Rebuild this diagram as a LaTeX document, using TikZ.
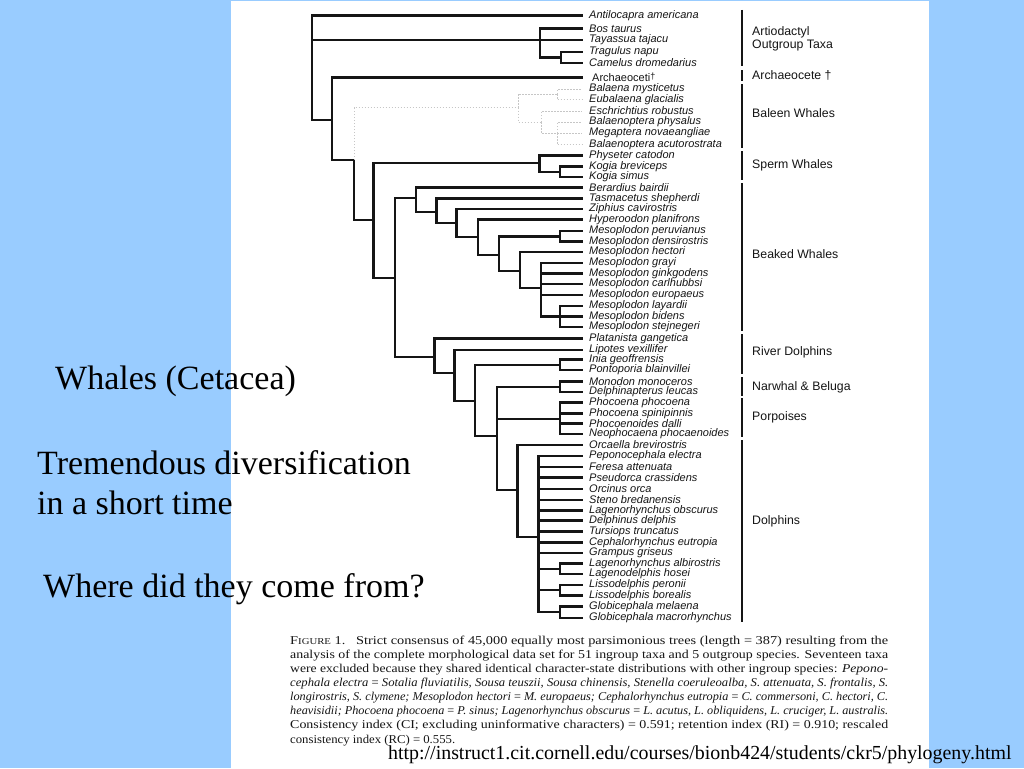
\documentclass[tikz,border=0pt]{standalone}
\usepackage{fontspec}
\usepackage{graphicx}
\setmainfont{Liberation Serif}
\newfontfamily\taxfont{Liberation Sans}
\definecolor{bgblue}{HTML}{99CCFF}
\definecolor{ink}{HTML}{151515}
\begin{document}
\begin{tikzpicture}[x=1pt,y=-1pt,
  br/.style={draw=ink,line width=2.1pt,line cap=rect},
  faint/.style={draw=gray!45,line width=0.9pt,dash pattern=on 1.5pt off 1.5pt},
  grpbar/.style={draw=ink,line width=2.8pt},
  tax/.style={anchor=west,inner sep=0pt,font=\taxfont\itshape\fontsize{11}{11}\selectfont,text=ink},
  grp/.style={anchor=west,inner sep=0pt,font=\taxfont\fontsize{12.3}{13.2}\selectfont,text=ink,align=left},
  big/.style={anchor=base west,inner sep=0pt,font=\fontsize{34}{34}\selectfont,text=black},
  captext/.style={anchor=base west,inner sep=0pt,font=\fontsize{12}{12}\selectfont,text=ink}]
\useasboundingbox (0,0) rectangle (1024,768);
\fill[bgblue] (0,0) rectangle (1024,768);
\fill[white] (231,1) rectangle (929,768);

% leaves and labels
\foreach \i/\y/\n in {
 1/15.5/Antilocapra americana, 2/28.5/Bos taurus, 3/40/Tayassua tajacu,
 4/52/Tragulus napu, 5/63/Camelus dromedarius,
 7/89/Balaena mysticetus, 8/99.5/Eubalaena glacialis, 9/111/Eschrichtius robustus,
 10/122/Balaenoptera physalus, 11/133/Megaptera novaeangliae, 12/144.5/Balaenoptera acutorostrata,
 13/155.5/Physeter catodon, 14/166.5/Kogia breviceps, 15/177/Kogia simus,
 16/187.5/Berardius bairdii, 17/198.5/Tasmacetus shepherdi, 18/209/Ziphius cavirostris,
 19/219.5/Hyperoodon planifrons, 20/231/Mesoplodon peruvianus, 21/241.5/Mesoplodon densirostris,
 22/252/Mesoplodon hectori, 23/263/Mesoplodon grayi, 24/273.5/Mesoplodon ginkgodens,
 25/284/Mesoplodon carlhubbsi, 26/295/Mesoplodon europaeus, 27/306/Mesoplodon layardii,
 28/316.5/Mesoplodon bidens, 29/327/Mesoplodon stejnegeri,
 30/338.5/Platanista gangetica, 31/350/Lipotes vexillifer, 32/359.5/Inia geoffrensis,
 33/370/Pontoporia blainvillei, 34/381.5/Monodon monoceros, 35/392/Delphinapterus leucas,
 36/402.5/Phocoena phocoena, 37/413.5/Phocoena spinipinnis, 38/423.5/Phocoenoides dalli,
 39/434/Neophocaena phocaenoides, 40/445/Orcaella brevirostris, 41/456/Peponocephala electra,
 42/467/Feresa attenuata, 43/477.5/Pseudorca crassidens, 44/489/Orcinus orca,
 45/500/Steno bredanensis, 46/510.5/Lagenorhynchus obscurus, 47/520.5/Delphinus delphis,
 48/531.5/Tursiops truncatus, 49/542.5/Cephalorhynchus eutropia, 50/553/Grampus griseus,
 51/563.5/Lagenorhynchus albirostris, 52/574/Lagenodelphis hosei, 53/585/Lissodelphis peronii,
 54/595.5/Lissodelphis borealis, 55/606.5/Globicephala melaena, 56/618/Globicephala macrorhynchus}
{
  \coordinate (L\i) at (582,\y);
  \node[tax] (T\i) at (589,\y) {\n};
}
\coordinate (L6) at (582,77.5);
\node[tax,font=\taxfont\fontsize{11}{11}\selectfont] (T6) at (592,77.5) {Archaeoceti\raisebox{2.5pt}{\fontsize{9}{9}\selectfont †}};

% internal nodes
\coordinate (root) at (312,40);
\coordinate (A) at (540,40);
\coordinate (TC) at (561,57.5);
\coordinate (C) at (332,120);
\coordinate (N) at (354,160);
\coordinate (M) at (518,107.7);
\coordinate (Mb) at (557,94);
\coordinate (Mc) at (541,122);
\coordinate (Md) at (557,133);
\coordinate (O) at (373.5,220);
\coordinate (P) at (539.5,163.3);
\coordinate (K) at (560,171.7);
\coordinate (R) at (395,278.3);
\coordinate (Z1) at (416,198.3);
\coordinate (Z2) at (436.5,211.7);
\coordinate (Z3) at (456.5,222.7);
\coordinate (Z4) at (478,236.7);
\coordinate (Z5) at (499,255);
\coordinate (Zpd) at (560,236.5);
\coordinate (Z6) at (520,270.7);
\coordinate (Z7) at (541,288.3);
\coordinate (Z8) at (560,316.5);
\coordinate (D1) at (434.5,356.7);
\coordinate (D2) at (454.5,373);
\coordinate (D3) at (475,401);
\coordinate (Dip) at (560,365);
\coordinate (D4) at (497,436);
\coordinate (Dmo) at (560,387);
\coordinate (Dph) at (560,419);
\coordinate (D5) at (517.5,490);
\coordinate (D6) at (538.5,536.7);
\coordinate (Dla) at (560,568.7);
\coordinate (Dli) at (560,590);
\coordinate (Dgl) at (560,612);

% solid branches
\foreach \p/\c in {root/L1, root/A, root/C, A/L2, A/L3, A/TC, TC/L4, TC/L5,
  C/L6, C/N, N/O, O/P, O/R, P/L13, P/K, K/L14, K/L15,
  R/Z1, R/D1, Z1/L16, Z1/Z2, Z2/L17, Z2/Z3, Z3/L18, Z3/Z4, Z4/L19, Z4/Z5,
  Z5/Zpd, Z5/Z6, Zpd/L20, Zpd/L21, Z6/L22, Z6/Z7, Z7/L23, Z7/L24, Z7/L25, Z7/L26, Z7/Z8,
  Z8/L27, Z8/L28, Z8/L29,
  D1/L30, D1/D2, D2/L31, D2/D3, D3/Dip, D3/D4, Dip/L32, Dip/L33,
  D4/Dmo, D4/Dph, D4/D5, Dmo/L34, Dmo/L35, Dph/L36, Dph/L37, Dph/L38, Dph/L39,
  D5/L40, D5/D6, D6/L41, D6/L42, D6/L43, D6/L44, D6/L45, D6/L46, D6/L47, D6/L48,
  D6/L49, D6/L50, D6/Dla, D6/Dli, D6/Dgl, Dla/L51, Dla/L52, Dli/L53, Dli/L54, Dgl/L55, Dgl/L56}
{ \draw[br] (\p) |- (\c); }

% faint baleen whale branches
\foreach \p/\c in {N/M, M/Mb, M/Mc, Mb/L7, Mb/L8, Mc/L9, Mc/Md, Md/L10, Md/L11, Md/L12}
{ \draw[faint] (\p) |- (\c); }

% group bars
\foreach \g/\a/\b in {1/10/66, 2/70/81, 3/84/148, 4/151/180, 5/183/331, 6/334/374, 7/377/396, 8/398/437, 9/440/622}
{
  \coordinate (G\g a) at (742,\a);
  \coordinate (G\g b) at (742,\b);
  \draw[grpbar] (G\g a) -- (G\g b);
}
\node[grp] (g1) at (752,38.5) {Artiodactyl\\Outgroup Taxa};
\node[grp] (g2) at (752,75) {Archaeocete †};
\node[grp] (g3) at (752,113) {Baleen Whales};
\node[grp] (g4) at (752,165) {Sperm Whales};
\node[grp] (g5) at (752,254) {Beaked Whales};
\node[grp] (g6) at (752,352) {River Dolphins};
\node[grp] (g7) at (752,387) {Narwhal \& Beluga};
\node[grp] (g8) at (752,417) {Porpoises};
\node[grp] (g9) at (752,521) {Dolphins};

% caption
\node[captext] (c1) at (290,644) {\resizebox{598pt}{\height}{F{\fontsize{9}{9}\selectfont IGURE} 1.\hspace{5pt} Strict consensus of 45,000 equally most parsimonious trees (length = 387) resulting from the}};
\node[captext] (c2) at (290,658.2) {\resizebox{598pt}{\height}{analysis of the complete morphological data set for 51 ingroup taxa and 5 outgroup species. Seventeen taxa}};
\node[captext] (c3) at (290,672.3) {\resizebox{598pt}{\height}{were excluded because they shared identical character-state distributions with other ingroup species: \textit{Pepono-}}};
\node[captext] (c4) at (290,686.5) {\resizebox{598pt}{\height}{\textit{cephala electra} = \textit{Sotalia fluviatilis, Sousa teuszii, Sousa chinensis, Stenella coeruleoalba, S. attenuata, S. frontalis, S.}}};
\node[captext] (c5) at (290,700.6) {\resizebox{598pt}{\height}{\textit{longirostris, S. clymene; Mesoplodon hectori} = \textit{M. europaeus; Cephalorhynchus eutropia} = \textit{C. commersoni, C. hectori, C.}}};
\node[captext] (c6) at (290,714.8) {\resizebox{598pt}{\height}{\textit{heavisidii; Phocoena phocoena} = \textit{P. sinus; Lagenorhynchus obscurus} = \textit{L. acutus, L. obliquidens, L. cruciger, L. australis.}}};
\node[captext] (c7) at (290,728.9) {\resizebox{598pt}{\height}{Consistency index (CI; excluding uninformative characters) = 0.591; retention index (RI) = 0.910; rescaled}};
\node[captext] (c8) at (290,743) {\resizebox{165pt}{\height}{consistency index (RC) = 0.555.}};

% slide text
\node[big] (t1) at (55,389) {Whales (Cetacea)};
\node[big] (t2) at (37,474) {Tremendous diversification};
\node[big] (t3) at (37,514) {in a short time};
\node[big] (t4) at (43,597) {Where did they come from?};
\node[anchor=base west,inner sep=0pt,font=\fontsize{19.9}{19.9}\selectfont,text=black] (url) at (388,759) {http://instruct1.cit.cornell.edu/courses/bionb424/students/ckr5/phylogeny.html};
\end{tikzpicture}
\end{document}
